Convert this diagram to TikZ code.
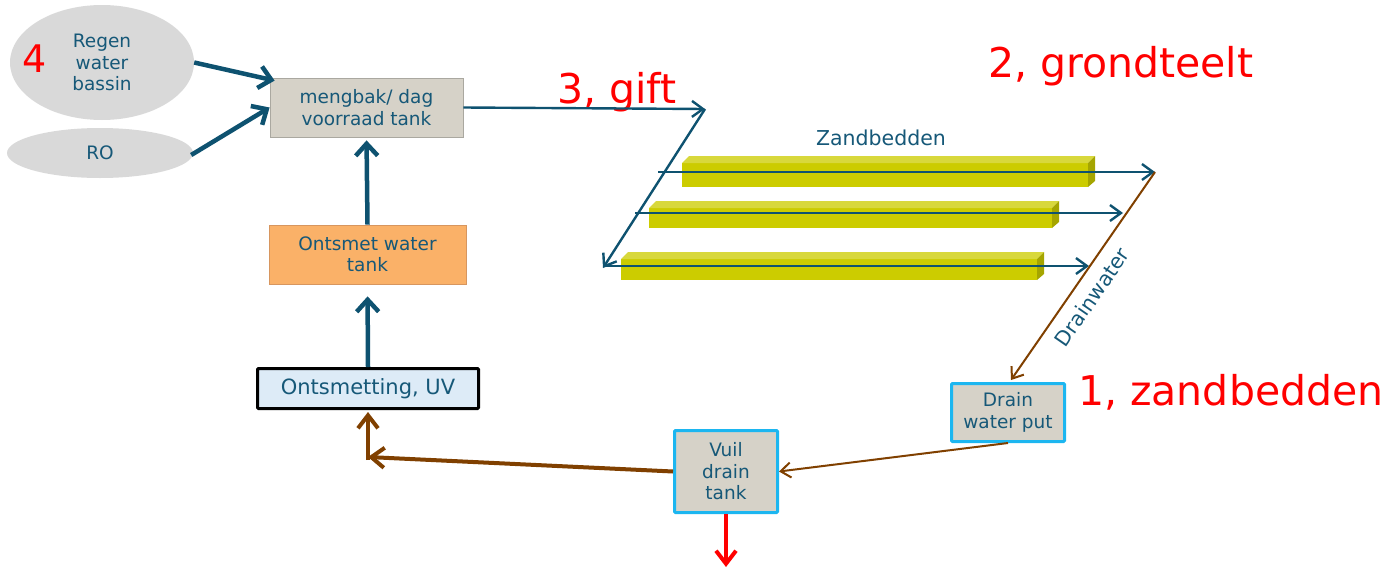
\documentclass[tikz,border=0pt]{standalone}
\usepackage{fontspec}
\setmainfont{DejaVu Sans}
\usetikzlibrary{arrows.meta,shapes.geometric,calc}
\definecolor{arrblue}{RGB}{14,82,112}
\definecolor{txtblue}{RGB}{22,88,120}
\definecolor{brn}{RGB}{128,64,0}
\definecolor{cyanb}{RGB}{28,182,240}
\definecolor{boxgray}{RGB}{214,210,200}
\definecolor{boxline}{RGB}{170,168,160}
\definecolor{ellgray}{RGB}{217,217,217}
\definecolor{orng}{RGB}{250,177,104}
\definecolor{orngline}{RGB}{215,150,95}
\definecolor{uvfill}{RGB}{221,235,247}
\definecolor{bedfront}{RGB}{204,204,0}
\definecolor{bedtop}{RGB}{216,216,60}
\definecolor{bedside}{RGB}{165,165,0}
\begin{document}
\begin{tikzpicture}[x=1pt,y=-1pt,
  nodetext/.style={font=\fontsize{18.5}{21.5}\selectfont, text=txtblue, align=center, inner sep=0pt},
  ell/.style={nodetext, ellipse, fill=ellgray},
  graybox/.style={nodetext, rectangle, fill=boxgray, draw=boxline, line width=0.8pt},
  cyanbox/.style={nodetext, rectangle, fill=boxgray, draw=cyanb, line width=3pt, rounded corners=1pt},
  redlab/.style={font=\fontsize{41}{48}\selectfont, text=red, inner sep=0pt, anchor=base west},
  thickblue/.style={draw=arrblue, line width=4.5pt, -{Straight Barb[length=12pt,width=22pt]}},
  thinblue/.style={draw=arrblue, line width=2.4pt, -{Straight Barb[length=11pt,width=16pt]}},
  brownthick/.style={draw=brn, line width=4pt, -{Straight Barb[length=13pt,width=20pt]}},
  brownthin/.style={draw=brn, line width=2pt, -{Straight Barb[length=10pt,width=15pt]}},
  redarrow/.style={draw=red, line width=4pt, -{Straight Barb[length=13pt,width=20pt]}}
]
\path[use as bounding box] (0,0) rectangle (1386,573);

% ellipses
\node[ell, minimum width=184pt, minimum height=115pt] (regen) at (102,62.5) {Regen\\water\\bassin};
\node[redlab, font=\fontsize{38}{44}\selectfont] (four) at (22,72) {4};
\node[ell, minimum width=186pt, minimum height=50pt] (ro) at (100,153) {RO};

% boxes
\node[graybox, minimum width=193pt, minimum height=59pt] (meng) at (366.5,107.5) {mengbak/ dag\\voorraad tank};
\node[nodetext, rectangle, fill=orng, draw=orngline, line width=0.8pt, minimum width=197pt, minimum height=59pt] (ont) at (367.5,254.5) {Ontsmet water\\tank};
\node[nodetext, rectangle, fill=uvfill, draw=black, line width=3pt, rounded corners=1pt, minimum width=221pt, minimum height=40pt, font=\fontsize{21}{24}\selectfont] (uv) at (368,388.5) {Ontsmetting, UV};
\node[cyanbox, minimum width=103pt, minimum height=82pt] (vuil) at (726,471.5) {Vuil\\drain\\tank};
\node[cyanbox, minimum width=113pt, minimum height=58pt] (dput) at (1008,412.5) {Drain\\water put};

% sand beds
\foreach \xl/\xr/\yt/\yb in {682/1088/163/187, 649/1052/208/228, 621/1037/259/280}{
  \fill[bedfront] (\xl,\yt) rectangle (\xr,\yb);
  \fill[bedtop] (\xl,\yt) -- (\xl+7,\yt-7) -- (\xr+7,\yt-7) -- (\xr,\yt) -- cycle;
  \fill[bedside] (\xr,\yt) -- (\xr+7,\yt-7) -- (\xr+7,\yb-6) -- (\xr,\yb) -- cycle;
}
\node[nodetext, font=\fontsize{20.5}{24}\selectfont] (zand) at (881,138) {Zandbedden};

% red labels
\node[redlab] (l2) at (988,77) {2, grondteelt};
\node[redlab] (l3) at (557,103) {3, gift};
\node[redlab] (l1) at (1078,405) {1, zandbedden};

% coordinates
\coordinate (ftop) at (705,109);
\coordinate (fbot) at (603,268);
\coordinate (b1s) at (658,172);
\coordinate (b1e) at (1155,172);
\coordinate (b2s) at (635,213);
\coordinate (b2e) at (1123,213);
\coordinate (b3s) at (605,266);
\coordinate (b3e) at (1089,266);
\coordinate (corner) at (368,457);
\coordinate (cornerb) at (368,460);
\coordinate (drop) at (726,567);

% blue arrows
\draw[thickblue] (regen.east) -- ($(meng.north west)+(5,3)$);
\draw[thickblue] ($(ro.east)+(-2,2)$) -- (meng.west);
\draw[thickblue, shorten >=3pt] (ont.north) -- (meng.south);
\draw[thickblue, shorten >=12pt] (uv.north) -- (ont.south);
\draw[thinblue] (meng.east) -- (ftop);
\draw[thinblue] (ftop) -- (fbot);
\draw[thinblue] (b1s) -- (b1e);
\draw[thinblue] (b2s) -- (b2e);
\draw[thinblue] (b3s) -- (b3e);

% drain water
\draw[brownthin] (b1e) -- ($(dput.north)+(3,-2)$);
\node[nodetext, font=\fontsize{20.5}{24}\selectfont, rotate=55.3] (dwl) at (1092,297) {Drainwater};
\draw[brownthin] (dput.south) -- (vuil.east);
\draw[brownthick] (vuil.west) -- (corner);
\draw[brownthick, shorten >=2pt] (cornerb) -- (uv.south);
\draw[redarrow] (vuil.south) -- (drop);
\end{tikzpicture}
\end{document}
